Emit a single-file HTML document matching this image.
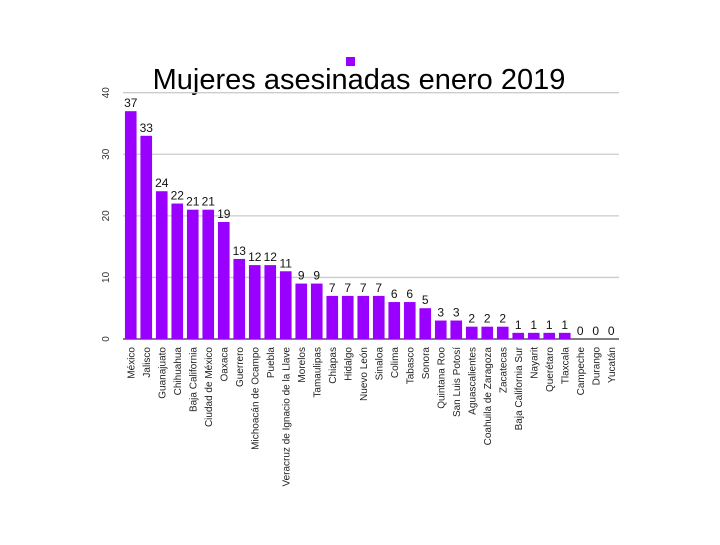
<!DOCTYPE html>
<html><head><meta charset="utf-8"><style>
body{margin:0;background:#fff;width:720px;height:540px;overflow:hidden}
svg{font-family:"Liberation Sans",sans-serif}
</style></head><body>
<svg id="chart" width="720" height="540">
<rect x="346" y="57" width="9" height="9" fill="#9a00ff"/>
<text x="359" y="89" text-anchor="middle" font-size="29" fill="#000">Mujeres asesinadas enero 2019</text>
<g id="grid"></g><g id="bars"></g><g id="labels"></g>
</svg>
<script>
const categories=["México","Jalisco","Guanajuato","Chihuahua","Baja California","Ciudad de México","Oaxaca","Guerrero","Michoacán de Ocampo","Puebla","Veracruz de Ignacio de la Llave","Morelos","Tamaulipas","Chiapas","Hidalgo","Nuevo León","Sinaloa","Colima","Tabasco","Sonora","Quintana Roo","San Luis Potosí","Aguascalientes","Coahuila de Zaragoza","Zacatecas","Baja California Sur","Nayarit","Querétaro","Tlaxcala","Campeche","Durango","Yucatán"];
const values=[37,33,24,22,21,21,19,13,12,12,11,9,9,7,7,7,7,6,6,5,3,3,2,2,2,1,1,1,1,0,0,0];
const ticks=[0,10,20,30,40];
const NS="http://www.w3.org/2000/svg";
const x0=123,x1=619,y0=339,y1=92.7,maxV=40;
const band=(x1-x0)/categories.length;
const y=v=>y0-(v/maxV)*(y0-y1);
const xs=i=>x0+i*band;
function mk(t,a,p){const e=document.createElementNS(NS,t);for(const k in a)e.setAttribute(k,a[k]);p.appendChild(e);return e;}
const G=document.getElementById('grid'),B=document.getElementById('bars'),L=document.getElementById('labels');
ticks.forEach(t=>{
 const ln=mk('line',{x1:x0,x2:x1,y1:y(t),y2:y(t),stroke:t===0?'#555':'#ccc','stroke-width':t===0?1.5:1.3},G);
 
 
 const tx=mk('text',{x:0,y:0,transform:`translate(109,${y(t)}) rotate(-90)`,'text-anchor':'middle','font-size':10,fill:'#333'},G);
 tx.textContent=t;
 
 
});
categories.forEach((c,i)=>{
 const v=values[i],bw=band*0.75,bx=xs(i)+(band-bw)/2,cx=xs(i)+band/2;
 const r=mk('rect',{x:bx,y:y(v),width:bw,height:y0-y(v),fill:'#9a00ff'},B);
 
 
 const vt=mk('text',{x:cx,y:y(v)-4,'text-anchor':'middle','font-size':12,fill:'#111'},L);
 vt.textContent=v;
 
 
 const ct=mk('text',{x:0,y:0,transform:`translate(${cx+3.5},347) rotate(-90)`,'text-anchor':'end','font-size':10,fill:'#222'},L);
 ct.textContent=c;
 
 
});
</script>
</body></html>
